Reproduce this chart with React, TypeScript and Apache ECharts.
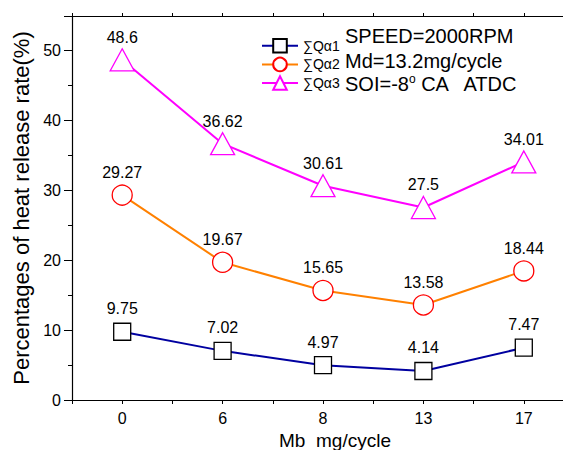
import React, { useEffect, useRef } from "react";
import * as echarts from "echarts";

const categories = ["0", "6", "8", "13", "17"];
const q1 = [9.75, 7.02, 4.97, 4.14, 7.47];
const q2 = [29.27, 19.67, 15.65, 13.58, 18.44];
const q3 = [48.6, 36.62, 30.61, 27.5, 34.01];
const seriesNames = ["∑Qα1", "∑Qα2", "∑Qα3"];
const yTicks = [0, 10, 20, 30, 40, 50];

const FONT = "Liberation Sans, Arial, sans-serif";

export default function App() {
  const ref = useRef<HTMLDivElement>(null);
  useEffect(() => {
    if (!ref.current) return;
    const chart = echarts.init(ref.current, null, { renderer: "svg" });
    const toPts = (arr: number[]) => arr.map((v, i) => [i, v]);
    const labelCfg = (dist: number) => ({
      show: true,
      position: "top" as const,
      distance: dist,
      color: "#000",
      fontSize: 16,
      fontFamily: FONT,
      formatter: (p: any) => String(p.value[1]),
    });
    const xAxisBase = {
      type: "value" as const,
      min: -0.5,
      max: 4.5,
      interval: 0.5,
      splitLine: { show: false },
      axisLine: { onZero: false, lineStyle: { color: "#000", width: 1.2 } },
      axisTick: { show: true, length: 4, lineStyle: { color: "#000" } },
    };
    chart.setOption({
      animation: false,
      textStyle: { fontFamily: FONT },
      grid: {
        left: 72,
        top: 16,
        width: 502,
        height: 384,
        containLabel: false,
        outerBoundsMode: "none",
      },
      xAxis: [
        {
          ...xAxisBase,
          position: "bottom",
          name: "Mb  mg/cycle",
          nameLocation: "middle",
          nameGap: 31,
          nameTextStyle: {
            fontSize: 19,
            lineHeight: 18,
            color: "#000",
            fontFamily: FONT,
            padding: [0, 0, 0, 24],
          },
          axisLabel: {
            color: "#000",
            fontSize: 16,
            fontFamily: FONT,
            margin: 10,
            showMinLabel: true,
            showMaxLabel: true,
            formatter: (v: number) => (Number.isInteger(v) ? categories[v] ?? "" : ""),
          },
        },
        {
          ...xAxisBase,
          position: "top",
          axisLabel: { show: false },
          axisTick: { show: true, length: 3, inside: false, lineStyle: { color: "#000" } },
        },
      ],
      yAxis: {
        type: "value",
        min: 0,
        max: 54.86,
        interval: 10,
        splitLine: { show: false },
        name: "Percentages of heat release rate(%)",
        nameLocation: "middle",
        nameGap: 35,
        nameTextStyle: { fontSize: 22, color: "#000", fontFamily: FONT },
        axisLine: { show: true, onZero: false, lineStyle: { color: "#000", width: 1.2 } },
        axisTick: { show: true, length: 8, lineStyle: { color: "#000" } },
        minorTick: { show: true, splitNumber: 2, length: 4, lineStyle: { color: "#000" } },
        axisLabel: {
          color: "#000",
          fontSize: 16,
          fontFamily: FONT,
          margin: 11,
          showMaxLabel: false,
          formatter: (v: number) => (yTicks.includes(v) ? String(v) : ""),
        },
      },
      legend: {
        orient: "vertical",
        left: 256,
        top: 33,
        itemWidth: 36,
        itemHeight: 17,
        itemGap: 3,
        textStyle: { fontSize: 14, color: "#000", fontFamily: FONT },
        data: seriesNames,
      },
      graphic: [
        {
          type: "text",
          left: 345,
          top: 26,
          style: { text: "SPEED=2000RPM", fontSize: 20, fill: "#000", fontFamily: FONT },
        },
        {
          type: "text",
          left: 345,
          top: 51,
          style: { text: "Md=13.2mg/cycle", fontSize: 20, fill: "#000", fontFamily: FONT },
        },
        {
          type: "text",
          left: 345,
          top: 73,
          style: {
            text: "{a|SOI=-8}{s|o}{a| CA   ATDC}",
            fill: "#000",
            fontFamily: FONT,
            rich: {
              a: { fontSize: 20, fontFamily: FONT, fill: "#000" },
              s: { fontSize: 12, fontFamily: FONT, fill: "#000", padding: [0, 0, 9, 0] },
            },
          },
        },
      ],
      series: [
        {
          name: seriesNames[0],
          type: "line",
          data: toPts(q1),
          symbol: "rect",
          symbolSize: 17,
          lineStyle: { color: "#0000a0", width: 2 },
          itemStyle: { color: "#fff", borderColor: "#000", borderWidth: 1.3 },
          label: labelCfg(6),
          z: 3,
        },
        {
          name: seriesNames[1],
          type: "line",
          data: toPts(q2),
          symbol: "circle",
          symbolSize: 20,
          lineStyle: { color: "#ff8000", width: 2 },
          itemStyle: { color: "#fff", borderColor: "#ff0000", borderWidth: 1.3 },
          label: labelCfg(4),
          z: 3,
        },
        {
          name: seriesNames[2],
          type: "line",
          data: toPts(q3),
          symbol: "triangle",
          symbolSize: [24, 22],
          lineStyle: { color: "#ff00ff", width: 2 },
          itemStyle: { color: "#fff", borderColor: "#ff00ff", borderWidth: 1.3 },
          label: labelCfg(3),
          z: 3,
        },
      ],
    });
    return () => chart.dispose();
  }, []);
  return (
    <div
      style={{
        position: "absolute",
        left: 0,
        top: 0,
        width: 563,
        height: 450,
        overflow: "hidden",
      }}
    >
      <div ref={ref} style={{ width: 600, height: 450 }} />
    </div>
  );
}
